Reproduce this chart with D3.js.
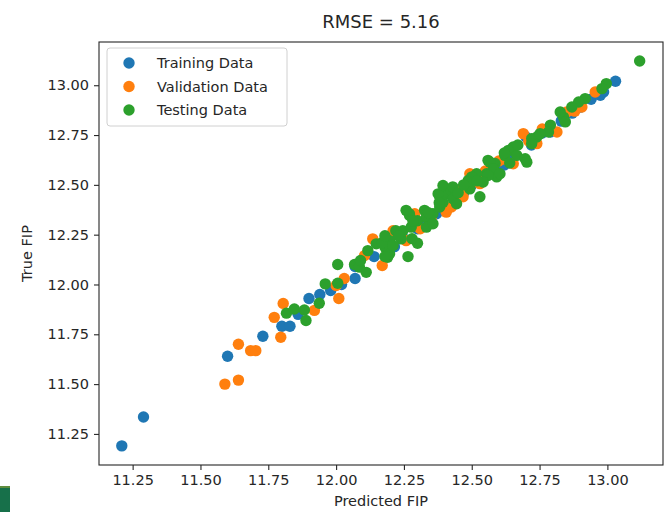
<!DOCTYPE html>
<html>
<head>
<meta charset="utf-8">
<script src="https://cdn.jsdelivr.net/npm/d3@7"></script>
<style>
  html, body { margin: 0; padding: 0; background: #fff; }
  svg { display: block; font-family: "DejaVu Sans", sans-serif; }
</style>
</head>
<body>
<svg id="chart" width="666" height="512"></svg>
<script>
// ---- data: [Predicted FIP, True FIP] ----
const trainingData = [
  [11.21,11.19],[11.29,11.335],[11.60,11.64],[11.73,11.74],[11.80,11.79],[11.83,11.79],[11.86,11.85],
  [11.90,11.93],[11.94,11.95],[11.98,11.97],[12.02,12.00],[12.07,12.03],[12.07,12.09],[12.14,12.14],
  [12.185,12.24],[12.215,12.19],[12.25,12.23],[12.30,12.28],[12.33,12.31],[12.37,12.355],[12.40,12.38],
  [12.44,12.43],[12.47,12.46],[12.50,12.50],[12.53,12.52],[12.56,12.56],[12.59,12.58],[12.62,12.60],
  [12.65,12.65],[12.70,12.74],[12.72,12.70],[12.76,12.76],[12.79,12.765],[12.83,12.82],[12.87,12.86],
  [12.90,12.89],[12.94,12.93],[12.974,12.95],[12.986,12.966],[13.03,13.02]
];
const validationData = [
  [11.59,11.50],[11.64,11.52],[11.64,11.70],[11.685,11.668],[11.704,11.668],[11.796,11.735],[11.772,11.835],
  [11.805,11.905],[11.92,11.87],[12.01,11.93],[12.03,12.03],[12.00,11.995],[12.17,12.095],[12.135,12.229],
  [12.105,12.145],[12.21,12.27],[12.258,12.22],[12.23,12.25],[12.31,12.28],[12.29,12.355],[12.35,12.33],
  [12.406,12.363],[12.425,12.389],[12.456,12.472],[12.468,12.44],[12.493,12.556],[12.53,12.506],
  [12.536,12.54],[12.58,12.59],[12.62,12.63],[12.653,12.606],[12.69,12.757],[12.71,12.72],[12.74,12.707],
  [12.814,12.765],[12.85,12.866],[12.906,12.891],[12.955,12.966],[12.44,12.41],[12.55,12.57],[12.60,12.62],
  [12.76,12.78],[12.88,12.87]
];
const testingData = [
  [11.817,11.856],[11.846,11.877],[11.883,11.872],[11.889,11.819],[11.938,11.906],[11.96,12.003],[12.006,12.006],
  [12.006,12.10],[12.068,12.10],[12.086,12.087],[12.111,12.061],[12.265,12.14],[12.19,12.137],[12.117,12.17],
  [12.148,12.204],[12.18,12.187],[12.197,12.154],[12.197,12.22],[12.24,12.229],[12.246,12.27],[12.277,12.288],
  [12.271,12.346],[12.30,12.32],[12.30,12.207],[12.17,12.21],[12.21,12.196],[12.27,12.355],[12.326,12.372],
  [12.333,12.338],[12.357,12.355],[12.382,12.389],[12.333,12.288],[12.357,12.305],[12.283,12.32],[12.382,12.44],
  [12.406,12.455],[12.376,12.455],[12.394,12.497],[12.425,12.472],[12.431,12.43],[12.444,12.405],[12.394,12.413],
  [12.493,12.48],[12.487,12.522],[12.53,12.44],[12.555,12.556],[12.518,12.556],[12.56,12.623],[12.586,12.607],
  [12.592,12.54],[12.258,12.372],[12.22,12.27],[12.23,12.245],[12.18,12.245],[12.28,12.23],[12.09,12.12],
  [12.18,12.14],[13.119,13.122],[12.996,13.008],[12.98,12.983],[12.918,12.933],[12.894,12.916],[12.869,12.891],
  [12.838,12.84],[12.826,12.866],[12.845,12.816],[12.79,12.80],[12.783,12.765],[12.74,12.74],[12.721,12.732],
  [12.752,12.757],[12.721,12.707],[12.653,12.69],[12.635,12.673],[12.622,12.648],[12.666,12.648],[12.697,12.631],
  [12.703,12.614],[12.567,12.614],[12.58,12.58],[12.604,12.556],[12.56,12.547],[12.50,12.54],[12.542,12.514],
  [12.487,12.514],[12.43,12.49],[12.34,12.36],[12.38,12.41],[12.45,12.46],[12.47,12.50],[12.52,12.52],
  [12.62,12.66],[12.67,12.70],[12.64,12.61]
];
const seriesNames = ["Training Data", "Validation Data", "Testing Data"];
const seriesColors = ["#1f77b4", "#ff7f0e", "#2ca02c"];
const xTicks = [11.25, 11.50, 11.75, 12.00, 12.25, 12.50, 12.75, 13.00];
const yTicks = [11.25, 11.50, 11.75, 12.00, 12.25, 12.50, 12.75, 13.00];
const titleText = "RMSE = 5.16";
const xLabel = "Predicted FIP";
const yLabel = "True FIP";

// ---- layout ----
const L = 99, R = 663, T = 42, B = 465;
const svg = d3.select("#chart");

const x = d3.scaleLinear().domain([11.126, 13.205]).range([L, R]);
const y = d3.scaleLinear().domain([11.094, 13.217]).range([B, T]);

// bottom-left decorative block (screenshot artifact)
svg.append("rect").attr("x", 0).attr("y", 486).attr("width", 10).attr("height", 26).attr("fill", "#17704a");
svg.append("rect").attr("x", 0).attr("y", 486).attr("width", 10).attr("height", 2).attr("fill", "#5f8d3e");

// points
const allSeries = [trainingData, validationData, testingData];
allSeries.forEach((data, i) => {
  svg.append("g").selectAll("circle").data(data).join("circle")
    .attr("cx", d => x(d[0])).attr("cy", d => y(d[1]))
    .attr("r", 5.7).attr("fill", seriesColors[i]);
});

// axes
const xAxis = svg.append("g").attr("transform", `translate(0,${B})`)
  .call(d3.axisBottom(x).tickValues(xTicks).tickFormat(d3.format(".2f")).tickSizeOuter(0).tickSize(5).tickPadding(5));
const yAxis = svg.append("g").attr("transform", `translate(${L},0)`)
  .call(d3.axisLeft(y).tickValues(yTicks).tickFormat(d3.format(".2f")).tickSizeOuter(0).tickSize(5).tickPadding(5));
[xAxis, yAxis].forEach(g => {
  g.select(".domain").remove();
  g.selectAll("text").attr("font-size", 14.5).attr("fill", "#262626").attr("font-family", "DejaVu Sans");
  g.selectAll("line").attr("stroke", "#262626").attr("stroke-width", 1.1);
});

// frame
svg.append("rect").attr("x", L).attr("y", T).attr("width", R - L).attr("height", B - T)
  .attr("fill", "none").attr("stroke", "#262626").attr("stroke-width", 1.1);

// title & labels
svg.append("text").attr("x", (L + R) / 2).attr("y", 28).attr("text-anchor", "middle")
  .attr("font-size", 18).attr("fill", "#262626").text(titleText);
svg.append("text").attr("x", (L + R) / 2).attr("y", 506).attr("text-anchor", "middle")
  .attr("font-size", 14.5).attr("fill", "#262626").text(xLabel);
svg.append("text").attr("transform", `translate(32,${(T + B) / 2}) rotate(-90)`).attr("text-anchor", "middle")
  .attr("font-size", 14.5).attr("fill", "#262626").text(yLabel);

// legend
const lg = svg.append("g");
lg.append("rect").attr("x", 107).attr("y", 48).attr("width", 180).attr("height", 78).attr("rx", 3)
  .attr("fill", "rgba(255,255,255,0.8)").attr("stroke", "#d0d0d0").attr("stroke-width", 1);
seriesNames.forEach((name, i) => {
  const cy = 63 + i * 23.5;
  lg.append("circle").attr("cx", 129).attr("cy", cy).attr("r", 5.7).attr("fill", seriesColors[i]);
  lg.append("text").attr("x", 157).attr("y", cy).attr("dy", "0.35em")
    .attr("font-size", 14.5).attr("fill", "#262626").text(name);
});
</script>
</body>
</html>
